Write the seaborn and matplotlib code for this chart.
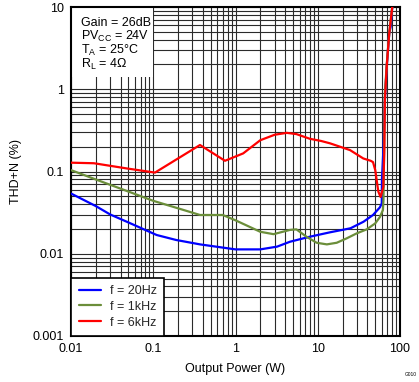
import numpy as np
import pandas as pd
import matplotlib
matplotlib.use("Agg")
import matplotlib.pyplot as plt
from matplotlib.ticker import LogLocator, FixedLocator, FixedFormatter, NullFormatter
from matplotlib.patches import Rectangle
import seaborn as sns

# ---- data ----
x20 = [0.01, 0.02, 0.03, 0.05, 0.11, 0.19, 0.37, 1.0, 2.0, 3.2, 4.6, 8.0, 14, 25, 36, 47, 57, 60,
       60.3, 63, 65.5, 69, 74, 77, 80.5]
y20 = [0.054, 0.038, 0.030, 0.024, 0.0169, 0.0147, 0.013, 0.0113, 0.0113, 0.0122, 0.014, 0.0161,
       0.0182, 0.0204, 0.0245, 0.0296, 0.0367, 0.041, 0.079, 0.2, 0.75, 1.9, 4.8, 5.76, 10]

x1k = [0.01, 0.02, 0.05, 0.1, 0.2, 0.37, 0.7, 1.0, 2.0, 2.9, 4.6, 5.5, 7.3, 9.7, 12.9, 17, 22.5,
       29.8, 39.4, 50, 57, 62, 63, 64, 65.5, 69, 74, 80.5]
y1k = [0.104, 0.080, 0.057, 0.044, 0.0357, 0.0296, 0.0296, 0.0255, 0.0185, 0.0173, 0.0195, 0.0198,
       0.0161, 0.0136, 0.013, 0.0136, 0.0154, 0.0177, 0.0198, 0.0234, 0.028, 0.034, 0.045, 0.18,
       0.9, 2.0, 4.8, 10]

x6k = [0.01, 0.019, 0.0475, 0.105, 0.37, 0.745, 1.24, 2.0, 3.0, 4.2, 5.5, 8.0, 11, 14.1, 24.7,
       35.8, 44, 47, 50, 54.5, 58, 62.7, 64.5, 65.5, 68.9, 74, 80.5]
y6k = [0.128, 0.126, 0.109, 0.097, 0.21, 0.135, 0.166, 0.24, 0.28, 0.295, 0.285, 0.25, 0.235,
       0.22, 0.182, 0.144, 0.135, 0.13, 0.104, 0.057, 0.049, 0.065, 0.18, 0.74, 1.88, 4.8, 10]

labels = ["f = 20Hz", "f = 1kHz", "f = 6kHz"]
colors = ["#0000FF", "#6B8E3A", "#FF0000"]

xticks = [0.01, 0.1, 1, 10, 100]
xticklabels = ["0.01", "0.1", "1", "10", "100"]
yticks = [0.001, 0.01, 0.1, 1, 10]
yticklabels = ["0.001", "0.01", "0.1", "1", "10"]

textbox_lines = ["Gain = 26dB", r"PV$_{\mathrm{CC}}$ = 24V", r"T$_{\mathrm{A}}$ = 25°C",
                 r"R$_{\mathrm{L}}$ = 4Ω"]

# ---- build long-form table ----
frames = []
for lab, xs, ys in zip(labels, [x20, x1k, x6k], [y20, y1k, y6k]):
    frames.append(pd.DataFrame({"x": xs, "y": ys, "series": lab}))
df = pd.concat(frames, ignore_index=True)

sns.set_theme(style="white")
plt.rcParams["font.family"] = ["Liberation Sans", "DejaVu Sans"]
plt.rcParams["mathtext.fontset"] = "custom"
plt.rcParams["mathtext.rm"] = "Liberation Sans"
plt.rcParams["mathtext.it"] = "Liberation Sans:italic"

fig = plt.figure(figsize=(4.19, 3.82), dpi=100)
ax = fig.add_axes([71 / 419, 1 - 336 / 382, (400 - 71) / 419, (336 - 7) / 382])

sns.lineplot(data=df, x="x", y="y", hue="series", palette=dict(zip(labels, colors)),
             hue_order=labels, estimator=None, sort=False, ax=ax,
             linewidth=1.6, zorder=3)

ax.set_xscale("log")
ax.set_yscale("log")
ax.set_xlim(0.01, 100)
ax.set_ylim(0.001, 10)

ax.xaxis.set_major_locator(FixedLocator(xticks))
ax.xaxis.set_major_formatter(FixedFormatter(xticklabels))
ax.yaxis.set_major_locator(FixedLocator(yticks))
ax.yaxis.set_major_formatter(FixedFormatter(yticklabels))
ax.xaxis.set_minor_locator(LogLocator(base=10, subs=np.arange(2, 10), numticks=20))
ax.yaxis.set_minor_locator(LogLocator(base=10, subs=np.arange(2, 10), numticks=20))
ax.xaxis.set_minor_formatter(NullFormatter())
ax.yaxis.set_minor_formatter(NullFormatter())
ax.tick_params(which="both", length=0, labelsize=9, colors="black", pad=5)

ax.grid(which="both", color="#2b2b2b", linewidth=0.8, zorder=1)
ax.set_axisbelow(True)
for s in ax.spines.values():
    s.set_color("black")
    s.set_linewidth(1.5)

ax.set_xlabel("Output Power (W)", fontsize=9, color="black", labelpad=6)
ax.set_ylabel("THD+N (%)", fontsize=9, color="black", labelpad=8)

# white box behind conditions text
ax.add_patch(Rectangle((0, 1 - (77 - 7) / 329), (153 - 71) / 329, (77 - 7) / 329,
                       transform=ax.transAxes, facecolor="white", edgecolor="none", zorder=2))
ypos = [23, 36, 50, 64]
for t, yp in zip(textbox_lines, ypos):
    ax.text((81 - 71) / 329, 1 - (yp - 7) / 329, t, transform=ax.transAxes, fontsize=9,
            va="center", ha="left", color="black", zorder=4)

leg = ax.legend(loc="lower left", bbox_to_anchor=(0, 0), borderaxespad=0, fancybox=False,
                framealpha=1, edgecolor="black", fontsize=9, handlelength=1.8,
                handletextpad=0.7, borderpad=0.6, labelspacing=0.3, title=None)
leg.get_frame().set_linewidth(1.2)
leg.set_zorder(5)

fig.text(0.995, 0.012, "G010", fontsize=3.5, ha="right", va="bottom", color="black")

fig.savefig("out.png", dpi=100)
